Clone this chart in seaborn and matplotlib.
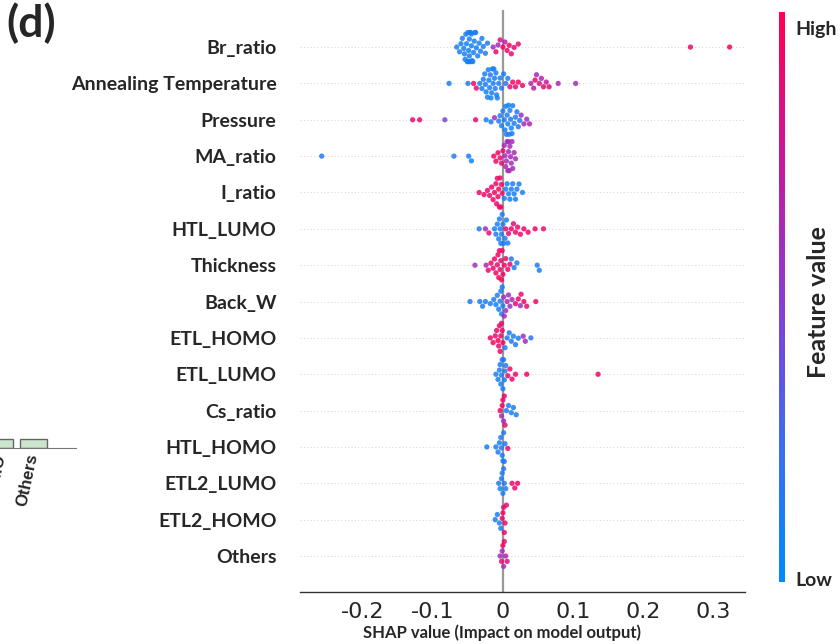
import numpy as np
import pandas as pd
import matplotlib
matplotlib.use("Agg")
import matplotlib.pyplot as plt
import seaborn as sns
from matplotlib.colors import LinearSegmentedColormap, Normalize
from matplotlib.cm import ScalarMappable

sns.set_style("white")
plt.rcParams["font.family"] = ["Lato", "DejaVu Sans"]
plt.rcParams["axes.unicode_minus"] = False

features = ["Br_ratio", "Annealing Temperature", "Pressure", "MA_ratio", "I_ratio",
            "HTL_LUMO", "Thickness", "Back_W", "ETL_HOMO", "ETL_LUMO", "Cs_ratio",
            "HTL_HOMO", "ETL2_LUMO", "ETL2_HOMO", "Others"]

# (SHAP value, normalised feature value)
br_ratio = [(-0.066,.10),(-0.062,.12),(-0.060,.08),(-0.058,.10),(-0.056,.12),(-0.055,.06),(-0.054,.10),
            (-0.053,.14),(-0.052,.08),(-0.051,.10),(-0.050,.12),(-0.050,.06),(-0.049,.10),(-0.048,.08),
            (-0.048,.14),(-0.047,.10),(-0.047,.12),(-0.046,.06),(-0.046,.10),(-0.045,.08),(-0.045,.12),
            (-0.044,.10),(-0.043,.14),(-0.042,.08),(-0.041,.10),(-0.040,.12),(-0.039,.10),(-0.038,.08),
            (-0.036,.12),(-0.034,.10),(-0.032,.14),(-0.030,.10),(-0.028,.12),(-0.025,.16),(-0.022,.12),
            (-0.014,.62),(-0.010,.92),(-0.007,.60),(-0.004,.85),(0.000,.95),(0.003,.70),(0.006,.90),
            (0.009,.95),(0.012,.88),(0.016,.92),(0.022,.90),(0.268,.93),(0.324,.96)]
annealing_temperature = [(-0.077,.10),(-0.050,.12),(-0.042,.92),(-0.038,.90),(-0.033,.10),(-0.030,.08),
            (-0.028,.12),(-0.026,.10),(-0.025,.14),(-0.024,.06),(-0.022,.10),(-0.021,.12),(-0.020,.08),
            (-0.019,.10),(-0.018,.14),(-0.017,.10),(-0.016,.12),(-0.015,.08),(-0.014,.10),(-0.013,.12),
            (-0.012,.10),(-0.011,.16),(-0.010,.08),(-0.009,.12),(-0.008,.10),(-0.006,.14),(-0.004,.10),
            (-0.002,.12),(0.001,.10),(0.004,.18),(0.007,.12),(0.010,.90),(0.014,.93),(0.018,.88),
            (0.022,.95),(0.028,.90),(0.040,.65),(0.044,.70),(0.046,.92),(0.048,.60),(0.052,.85),
            (0.055,.68),(0.058,.92),(0.062,.72),(0.066,.90),(0.079,.62),(0.104,.60)]
pressure = [(-0.129,.90),(-0.119,.88),(-0.083,.45),(-0.039,.90),(-0.024,.12),(-0.017,.10),(-0.012,.60),
            (-0.006,.12),(-0.004,.10),(-0.002,.08),(0.000,.12),(0.002,.10),(0.003,.14),(0.004,.08),
            (0.005,.10),(0.006,.12),(0.007,.10),(0.008,.06),(0.009,.12),(0.010,.10),(0.011,.14),
            (0.012,.08),(0.013,.10),(0.014,.12),(0.016,.10),(0.018,.14),(0.020,.10),(0.022,.16),
            (0.024,.12),(0.026,.60),(0.030,.62),(0.034,.58),(0.038,.65)]
ma_ratio = [(-0.259,.12),(-0.070,.14),(-0.049,.12),(-0.045,.10),(-0.013,.95),(-0.010,.92),(-0.007,.95),
            (-0.004,.90),(-0.002,.93),(0.000,.88),(0.002,.62),(0.003,.60),(0.004,.64),(0.005,.58),
            (0.006,.62),(0.007,.60),(0.008,.63),(0.008,.59),(0.009,.61),(0.010,.60),(0.011,.64),
            (0.012,.58),(0.013,.62),(0.014,.60),(0.016,.63),(0.018,.60)]
i_ratio = [(-0.034,.92),(-0.027,.95),(-0.022,.90),(-0.019,.93),(-0.016,.96),(-0.014,.90),(-0.012,.94),
           (-0.010,.92),(-0.009,.95),(-0.008,.90),(-0.007,.93),(-0.006,.96),(-0.005,.91),(-0.004,.94),
           (-0.003,.92),(-0.002,.95),(-0.001,.90),(0.002,.10),(0.004,.12),(0.006,.08),(0.008,.10),
           (0.010,.14),(0.012,.10),(0.014,.12),(0.016,.08),(0.018,.10),(0.020,.14),(0.023,.12),(0.028,.10)]
htl_lumo = [(-0.034,.12),(-0.025,.60),(-0.020,.90),(-0.012,.10),(-0.010,.14),(-0.008,.08),(-0.006,.12),
            (-0.005,.10),(-0.004,.14),(-0.003,.08),(-0.002,.12),(-0.001,.10),(0.000,.14),(0.001,.10),
            (0.003,.12),(0.005,.08),(0.007,.12),(0.004,.92),(0.008,.90),(0.012,.94),(0.015,.88),
            (0.018,.92),(0.021,.95),(0.025,.90),(0.030,.93),(0.036,.90),(0.046,.92),(0.058,.90)]
thickness = [(-0.040,.58),(-0.024,.62),(-0.021,.92),(-0.017,.95),(-0.014,.90),(-0.012,.93),(-0.010,.96),
             (-0.008,.91),(-0.007,.94),(-0.006,.92),(-0.005,.95),(-0.004,.90),(-0.003,.93),(-0.002,.96),
             (-0.001,.91),(0.000,.94),(0.002,.92),(0.004,.90),(0.007,.93),(0.010,.88),(0.012,.12),
             (0.016,.10),(0.020,.14),(0.049,.12),(0.052,.10)]
back_w = [(-0.047,.12),(-0.033,.10),(-0.029,.14),(-0.025,.12),(-0.018,.10),(-0.013,.12),(-0.010,.08),
          (-0.008,.14),(-0.006,.10),(-0.004,.12),(-0.003,.08),(-0.002,.14),(-0.001,.10),(0.000,.12),
          (0.001,.58),(0.002,.62),(0.004,.55),(0.006,.64),(0.008,.60),(0.010,.57),(0.013,.63),
          (0.018,.90),(0.022,.93),(0.025,.62),(0.026,.88),(0.030,.92),(0.034,.90),(0.047,.92)]
etl_homo = [(-0.018,.92),(-0.014,.95),(-0.011,.90),(-0.009,.93),(-0.007,.96),(-0.006,.91),(-0.005,.94),
            (-0.004,.92),(-0.003,.95),(-0.002,.90),(-0.001,.93),(0.000,.96),(0.003,.12),(0.006,.10),
            (0.009,.14),(0.012,.12),(0.015,.10),(0.018,.14),(0.022,.12),(0.029,.60),(0.032,.62),(0.040,.15)]
etl_lumo = [(-0.010,.12),(-0.007,.10),(-0.005,.14),(-0.004,.08),(-0.003,.12),(-0.002,.10),(-0.001,.14),
            (0.000,.08),(0.001,.12),(0.002,.10),(0.003,.14),(0.004,.12),(0.007,.92),(0.010,.95),
            (0.013,.90),(0.018,.93),(0.034,.92),(0.136,.94)]
cs_ratio = [(-0.004,.92),(-0.002,.60),(-0.001,.95),(0.000,.90),(0.001,.62),(0.002,.93),(0.003,.90),
            (0.005,.12),(0.008,.10),(0.012,.14),(0.015,.12),(0.019,.10)]
htl_homo = [(-0.023,.12),(-0.010,.10),(-0.007,.14),(-0.005,.12),(-0.003,.10),(-0.002,.14),(-0.001,.12),
            (0.000,.10),(0.001,.14),(0.002,.12),(0.003,.10),(0.007,.92)]
etl2_lumo = [(-0.006,.12),(-0.004,.10),(-0.002,.14),(-0.001,.12),(0.000,.10),(0.001,.14),(0.002,.12),
             (0.004,.10),(0.013,.92),(0.017,.90),(0.021,.94)]
etl2_homo = [(-0.011,.12),(-0.008,.10),(-0.005,.14),(-0.003,.12),(-0.001,.92),(0.000,.95),(0.001,.90),
             (0.002,.93),(0.003,.96),(0.005,.91)]
others = [(-0.004,.60),(-0.002,.90),(-0.001,.62),(0.000,.92),(0.001,.58),(0.002,.90),(0.004,.64),(0.006,.88)]

x_ticks = [-0.2, -0.1, 0, 0.1, 0.2, 0.3]
x_tick_labels = ["-0.2", "-0.1", "0", "0.1", "0.2", "0.3"]

# neighbouring panel fragment (bar chart, cut at the figure edge)
partial_labels = ["ETL2_HOMO", "Others"]
partial_values = [0.9, 0.95]

series = [br_ratio, annealing_temperature, pressure, ma_ratio, i_ratio, htl_lumo, thickness,
          back_w, etl_homo, etl_lumo, cs_ratio, htl_homo, etl2_lumo, etl2_homo, others]
rows = []
for name, pts in zip(features, series):
    for s, v in pts:
        rows.append({"feature": name, "shap": s, "fv": v})
df = pd.DataFrame(rows)

cmap = LinearSegmentedColormap.from_list(
    "shap_rb", [(0, "#008bfb"), (0.25, "#3d6cec"), (0.5, "#8b3bd0"), (0.75, "#c8169c"), (1, "#ff0052")])

W, H = 840, 644
fig = plt.figure(figsize=(8.4, 6.44), dpi=100)

# ---- main beeswarm axes
ax = fig.add_axes([300 / W, 1 - 592 / H, 445 / W, (592 - 10) / H])
for i in range(len(features)):
    ax.axhline(i, color="#d4d4d4", lw=0.7, dashes=(1, 2.5), zorder=0)
ax.axvline(0, color="#999999", lw=1.6, zorder=1)
sns.swarmplot(data=df, x="shap", y="feature", hue="fv", order=features, palette=cmap,
              hue_norm=(0, 1), size=3.8, orient="h", legend=False, alpha=0.85,
              linewidth=0, ax=ax, zorder=3, warn_thresh=1)
ax.set_xlim(-0.29, 0.346)
ax.set_ylim(len(features) - 0.01, -1.02)
for sp in ["top", "right", "left"]:
    ax.spines[sp].set_visible(False)
ax.spines["bottom"].set_color("#333333")
ax.spines["bottom"].set_linewidth(1.0)
ax.set_xticks(x_ticks)
ax.set_xticklabels(x_tick_labels, fontsize=16, family="DejaVu Sans")
ax.tick_params(axis="x", length=4, width=0.8, color="#333333", pad=3)
ax.tick_params(axis="y", length=0, pad=17)
for lab in ax.get_yticklabels():
    lab.set_fontsize(14)
    lab.set_fontweight("bold")
ax.set_ylabel("")
ax.set_xlabel("SHAP value (Impact on model output)", fontsize=12, fontweight="bold", labelpad=0)
ax.xaxis.set_label_coords(0.455, -0.055)

# ---- colorbar
cax = fig.add_axes([779 / W, 1 - 582 / H, 6 / W, (582 - 12) / H])
cb = fig.colorbar(ScalarMappable(norm=Normalize(0, 1), cmap=cmap), cax=cax)
cb.outline.set_visible(False)
cb.set_ticks([])
fig.text(795 / W, 1 - 30 / H, "High", fontsize=14, fontweight="bold", va="center", ha="left")
fig.text(795 / W, 1 - 580 / H, "Low", fontsize=14, fontweight="bold", va="center", ha="left")
fig.text(818 / W, 1 - 302 / H, "Feature value", fontsize=18, fontweight="bold",
         rotation=90, va="center", ha="center")

# ---- panel label
fig.text(6 / W, 1 - 2 / H, "(d)", fontsize=32, fontweight="bold", va="top", ha="left")

# ---- fragment of the neighbouring bar panel
bx = fig.add_axes([-34.5 / W, 1 - 448 / H, 110.5 / W, 100 / H])
bx.bar(partial_labels, partial_values, width=0.8, color="#cce3cc", edgecolor="#666666", linewidth=1.0)
bx.set_xlim(-1, 2.25)
bx.set_ylim(0, 10)
for sp in ["top", "right", "left"]:
    bx.spines[sp].set_visible(False)
bx.spines["bottom"].set_color("#777777")
bx.set_yticks([])
bx.tick_params(axis="x", length=0, pad=4)
bx.set_xticks(range(len(partial_labels)))
bx.set_xticklabels(partial_labels, rotation=78, ha="right", va="center", rotation_mode="anchor",
                   fontsize=12, family="Liberation Sans", fontweight="bold")
bx.patch.set_alpha(0)

fig.savefig("out.png", dpi=100)
